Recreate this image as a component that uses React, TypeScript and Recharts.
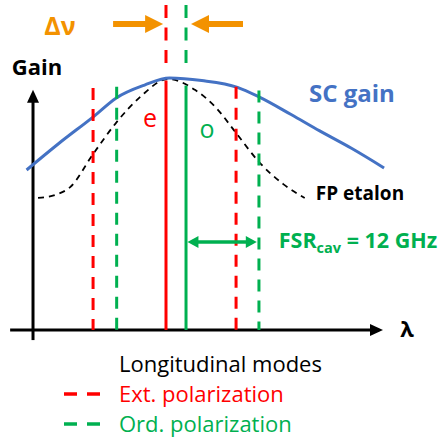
import React from 'react';
import { ComposedChart, Line, XAxis, YAxis, ReferenceLine, ReferenceDot } from 'recharts';

const W = 441;
const H = 443;
const FONT = '"Open Sans", Lato, sans-serif';

// x: wavelength in units of the cavity FSR (0 = central e-mode), y: normalised gain
const gainX = [-1.95, -1.5, -1.0, -0.7, -0.3, 0.05, 0.5, 1.0, 1.3, 1.75, 2.15, 2.6, 3.05];
const gainY = [0.635, 0.74, 0.85, 0.92, 0.972, 1.0, 0.99, 0.963, 0.925, 0.855, 0.79, 0.72, 0.643];
const etalonX = [-1.79, -1.55, -1.34, -1.02, -0.69, -0.36, 0.03, 0.41, 0.69, 0.98, 1.3, 1.64, 1.94];
const etalonY = [0.524, 0.536, 0.567, 0.698, 0.825, 0.925, 0.996, 0.952, 0.885, 0.782, 0.667, 0.579, 0.524];

const extModes = [-1.02, 0, 0.98];
const extHeights = [0.96, 0.99, 0.965];
const ordModes = [-0.69, 0.28, 1.3];
const ordHeights = [0.965, 0.97, 0.95];
const lasing = 1; // index of the lasing mode of each polarization

const legendItems = ['Ext. polarization', 'Ord. polarization'];

const gainData = gainX.map((x, i) => ({ x, g: gainY[i] }));
const etalonData = etalonX.map((x, i) => ({ x, t: etalonY[i] }));
// drawn axes (with arrow tips), as two-point series so the curves sit on top of them
const yAxisData = [{ x: -1.86, a: -0.04 }, { x: -1.86, a: 0.937 }];
const xAxisData = [{ x: -2.18, a: 0 }, { x: 2.979, a: 0 }];

const RED = '#ff0000';
const GREEN = '#00b050';
const BLUE = '#4472c4';
const ORANGE = '#f39200';

// plot area maps 1:1 to the page, so domains just frame the drawing
const xDomain = [-2.3217, 3.8462];
const yDomain = [-0.4484, 1.3095];

const arrow = (color: string, sw: number, len: number, hw: number, both = false) => (p: any) => {
  const { x1, y1, x2, y2 } = p;
  const a = Math.atan2(y2 - y1, x2 - x1);
  const c = Math.cos(a), s = Math.sin(a);
  const head = (x: number, y: number, d: number) => {
    const bx = x - d * len * c, by = y - d * len * s;
    return `${x},${y} ${bx + hw * s},${by - hw * c} ${bx - hw * s},${by + hw * c}`;
  };
  const sx = both ? x1 + len * 0.8 * c : x1;
  const sy = both ? y1 + len * 0.8 * s : y1;
  return (
    <g>
      <line x1={sx} y1={sy} x2={x2 - len * 0.8 * c} y2={y2 - len * 0.8 * s} stroke={color} strokeWidth={sw} />
      <polygon points={head(x2, y2, 1)} fill={color} />
      {both && <polygon points={head(x1, y1, -1)} fill={color} />}
    </g>
  );
};

const axisTip = (dir: 'up' | 'right') => (p: any) => {
  const { cx, cy, index } = p;
  if (index !== 1) return <g key={index} />;
  const pts = dir === 'up'
    ? `${cx},${cy - 4} ${cx - 6},${cy + 9} ${cx + 6},${cy + 9}`
    : `${cx + 4},${cy} ${cx - 9},${cy - 6} ${cx - 9},${cy + 6}`;
  return <polygon key={index} points={pts} fill="#000" />;
};

const label = (content: React.ReactNode, fill: string, size: number, bold = true) => (p: any) => (
  <text x={p.cx} y={p.cy} textAnchor="middle" fill={fill} fontSize={size} fontWeight={bold ? 700 : 400} fontFamily={FONT}>
    {content}
  </text>
);

export default function App() {
  return (
    <div style={{ position: 'absolute', left: 0, top: 0, width: W, height: H, background: '#fff' }}>
      <ComposedChart width={W} height={H} margin={{ top: 0, right: 0, bottom: 0, left: 0 }}>
        <XAxis type="number" dataKey="x" domain={xDomain} hide allowDataOverflow />
        <YAxis type="number" domain={yDomain} hide allowDataOverflow />

        <Line data={yAxisData} dataKey="a" type="linear" stroke="#000" strokeWidth={3} dot={axisTip('up')} activeDot={false} isAnimationActive={false} />
        <Line data={xAxisData} dataKey="a" type="linear" stroke="#000" strokeWidth={3} dot={axisTip('right')} activeDot={false} isAnimationActive={false} />
        <Line data={etalonData} dataKey="t" type="monotone" stroke="#000" strokeWidth={1.8} strokeDasharray="6 5" dot={false} activeDot={false} isAnimationActive={false} />
        <Line data={gainData} dataKey="g" type="monotone" stroke={BLUE} strokeWidth={3} dot={false} activeDot={false} isAnimationActive={false} />

        {/* longitudinal modes */}
        {extModes.map((m, i) => (
          <ReferenceLine key={`e${i}`} segment={[{ x: m, y: extHeights[i] }, { x: m, y: 0 }]} ifOverflow="visible"
            stroke={RED} strokeWidth={3} strokeDasharray={i === lasing ? undefined : '12 9'} />
        ))}
        {ordModes.map((m, i) => (
          <ReferenceLine key={`o${i}`} segment={[{ x: m, y: ordHeights[i] }, { x: m, y: 0 }]} ifOverflow="visible"
            stroke={GREEN} strokeWidth={3} strokeDasharray={i === lasing ? undefined : '12 9'} />
        ))}

        {/* Δν markers */}
        <ReferenceLine segment={[{ x: extModes[lasing], y: 1.29 }, { x: extModes[lasing], y: 1.05 }]} ifOverflow="visible" stroke={RED} strokeWidth={3} strokeDasharray="13 9.5" />
        <ReferenceLine segment={[{ x: ordModes[lasing], y: 1.29 }, { x: ordModes[lasing], y: 1.05 }]} ifOverflow="visible" stroke={GREEN} strokeWidth={3} strokeDasharray="13 9.5" />
        <ReferenceLine segment={[{ x: -0.74, y: 1.214 }, { x: -0.04, y: 1.214 }]} ifOverflow="visible" shape={arrow(ORANGE, 6, 18, 9)} />
        <ReferenceLine segment={[{ x: 1.077, y: 1.214 }, { x: 0.35, y: 1.214 }]} ifOverflow="visible" shape={arrow(ORANGE, 6, 18, 9)} />

        {/* FSR */}
        <ReferenceLine segment={[{ x: 0.3, y: 0.349 }, { x: 1.27, y: 0.349 }]} ifOverflow="visible" shape={arrow(GREEN, 3.5, 11, 6, true)} />

        {/* annotations */}
        <ReferenceDot x={-1.483} y={1.17} r={0} ifOverflow="visible" shape={label('Δν', ORANGE, 25)} />
        <ReferenceDot x={-1.804} y={1.012} r={0} ifOverflow="visible" shape={label('Gain', '#000', 22)} />
        <ReferenceDot x={2.6} y={0.905} r={0} ifOverflow="visible" shape={label('SC gain', BLUE, 24)} />
        <ReferenceDot x={-0.224} y={0.806} r={0} ifOverflow="visible" shape={label('e', RED, 25, false)} />
        <ReferenceDot x={0.573} y={0.762} r={0} ifOverflow="visible" shape={label('o', GREEN, 25, false)} />
        <ReferenceDot x={2.713} y={0.516} r={0} ifOverflow="visible" shape={label('FP etalon', '#000', 19)} />
        <ReferenceDot x={3.37} y={-0.028} r={0} ifOverflow="visible" shape={label('λ', '#000', 22)} />
        <ReferenceDot x={2.685} y={0.325} r={0} ifOverflow="visible"
          shape={label(<>FSR<tspan fontSize={14.5} dy={5}>cav</tspan><tspan dy={-5}> = 12 GHz</tspan></>, GREEN, 21.5)} />
      </ComposedChart>

      <svg width={W} height={H} style={{ position: 'absolute', left: 0, top: 0, pointerEvents: 'none' }}>
        <text x={119} y={372} fontSize={22} fontFamily={FONT} fill="#000">Longitudinal modes</text>
        {legendItems.map((t, i) => {
          const c = i === 0 ? RED : GREEN;
          const y = 402 + i * 30;
          return (
            <g key={t}>
              <line x1={64} y1={y - 8} x2={101} y2={y - 8} stroke={c} strokeWidth={3.5} strokeDasharray="13 10" />
              <text x={119} y={y} fontSize={22} fontFamily={FONT} fill={c}>{t}</text>
            </g>
          );
        })}
      </svg>
    </div>
  );
}
